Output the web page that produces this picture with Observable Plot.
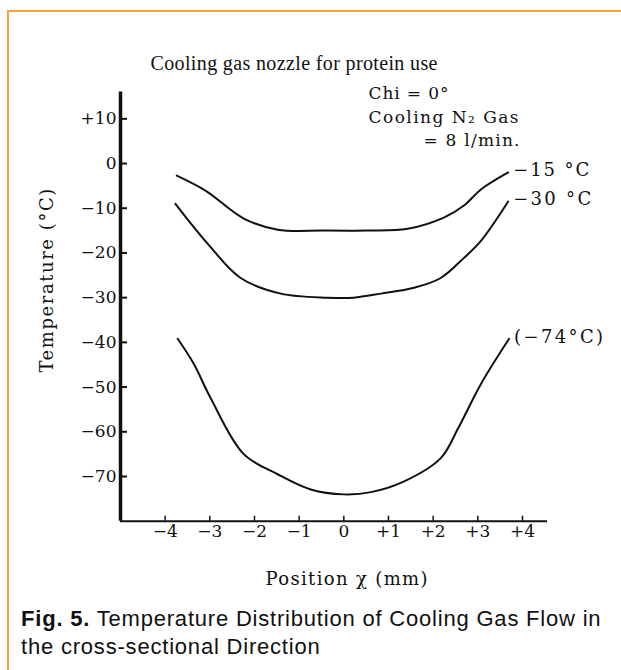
<!DOCTYPE html>
<html><head><meta charset="utf-8">
<script src="https://cdn.jsdelivr.net/npm/d3@7"></script>
<script src="https://cdn.jsdelivr.net/npm/@observablehq/plot@0.6"></script>
<style>
body{margin:0;background:#fff;}
#wrap{position:relative;width:621px;height:670px;overflow:hidden;background:#fff;}
#border{position:absolute;left:7px;top:10px;width:700px;height:700px;border-top:2px solid #F7A13A;border-left:2px solid #F7A13A;}
#chart{position:absolute;left:0;top:0;}
#caption{position:absolute;left:21px;top:605px;font-family:"Liberation Sans",Arial,sans-serif;font-size:22px;letter-spacing:0.8px;line-height:28px;color:#111;white-space:nowrap;}
</style></head>
<body><div id="wrap"><div id="border"></div><div id="chart"></div>
<div id="caption"><b>Fig. 5.</b> Temperature Distribution of Cooling Gas Flow in<br>the cross-sectional Direction</div></div>
<script>
// Series: position (mm) and temperature (°C)
const seriesNames = ["−15 °C", "−30 °C", "(−74°C)"];
const x15 = [-3.74, -3.09, -2.24, -1.48, -0.45, 0.54, 1.43, 2.24, 2.69, 3.07, 3.68];
const t15 = [-2.7, -6.1, -12.3, -14.8, -15.0, -15.0, -14.6, -12.1, -9.4, -5.8, -2.0];
const x30 = [-3.77, -3.05, -2.31, -1.41, -0.36, 0.22, 0.83, 1.57, 2.17, 2.69, 3.07, 3.68];
const t30 = [-9.0, -17.9, -25.6, -29.1, -30.0, -30.0, -29.1, -27.8, -25.6, -21.1, -17.3, -8.5];
const x74 = [-3.72, -3.36, -2.98, -2.24, -1.48, -0.74, 0, 0.61, 1.35, 2.17, 2.56, 3.07, 3.70];
const t74 = [-39.2, -44.8, -52.5, -65.0, -69.5, -72.9, -74.0, -73.5, -71.1, -65.9, -59.2, -49.3, -39.2];

const xTicks = [-4, -3, -2, -1, 0, 1, 2, 3, 4];
const xTickLabels = ["−4", "−3", "−2", "−1", "0", "+1", "+2", "+3", "+4"];
const yTicks = [10, 0, -10, -20, -30, -40, -50, -60, -70];
const yTickLabels = ["+10", "0", "−10", "−20", "−30", "−40", "−50", "−60", "−70"];

const titleText = "Cooling gas nozzle for protein use";
const noteLines = ["Chi = 0°", "Cooling N₂ Gas", "= 8 l/min."];
const xLabel = "Position χ (mm)";
const yLabel = "Temperature (°C)";

const xDomain = [-5, 4.56];
const yDomain = [-80, 16];

const rows = [
  ...x15.map((x, i) => ({x, t: t15[i], s: seriesNames[0]})),
  ...x30.map((x, i) => ({x, t: t30[i], s: seriesNames[1]})),
  ...x74.map((x, i) => ({x, t: t74[i], s: seriesNames[2]}))
];

// styling: fitted text widths (px) to mimic the wide typeset lettering of the scan
const fitWidths = new Map([
  [titleText, 287], [noteLines[0], 80], [noteLines[1], 150], [noteLines[2], 96],
  [xLabel, 162], [yLabel, 184],
  [seriesNames[0], 76], [seriesNames[1], 78], [seriesNames[2], 89]
]);

const serif = '"Liberation Serif","Times New Roman",serif';
const wide = '"DejaVu Serif",serif';
const W = 621, H = 600;

const chart = Plot.plot({
  width: W, height: H,
  marginLeft: 120, marginRight: 74, marginTop: 91.5, marginBottom: H - 520.7,
  x: {domain: xDomain},
  y: {domain: yDomain},
  style: {fontFamily: serif, color: "#111", background: "transparent", overflow: "visible"},
  marks: [
    Plot.ruleX([xDomain[0]], {stroke: "#111", strokeWidth: 3.5}),
    Plot.ruleY([yDomain[0]], {stroke: "#111", strokeWidth: 2}),
    Plot.axisY(yTicks, {tickSize: 7, dx: 7, strokeWidth: 2, tickFormat: () => "", label: null}),
    Plot.axisY(yTicks, {tickSize: 0, tickPadding: 4, fontSize: 17, fontFamily: wide, label: null,
      tickFormat: d => yTickLabels[yTicks.indexOf(d)]}),
    Plot.axisX(xTicks, {anchor: "bottom", tickSize: 5, dy: -5, strokeWidth: 1.5, tickFormat: () => "", label: null}),
    Plot.axisX(xTicks, {anchor: "bottom", tickSize: 0, tickPadding: 4, fontSize: 17, fontFamily: wide, label: null,
      tickFormat: d => xTickLabels[xTicks.indexOf(d)]}),
    Plot.line(rows, {x: "x", y: "t", z: "s", stroke: "#111", strokeWidth: 2, curve: "catmull-rom"}),
    Plot.text(rows, Plot.selectLast({x: "x", y: "t", z: "s", text: "s", textAnchor: "start", lineAnchor: "middle", dx: 5, dy: -2, fontSize: 18, fontFamily: wide})),
    Plot.text([titleText], {frameAnchor: "top-left", textAnchor: "start", lineAnchor: "middle", dx: 30, dy: -28.5, fontSize: 20}),
    Plot.text([noteLines[0]], {frameAnchor: "top-left", textAnchor: "start", lineAnchor: "middle", dx: 248, dy: 1.5, fontSize: 17, fontFamily: wide}),
    Plot.text([noteLines[1]], {frameAnchor: "top-left", textAnchor: "start", lineAnchor: "middle", dx: 248, dy: 25.5, fontSize: 17, fontFamily: wide}),
    Plot.text([noteLines[2]], {frameAnchor: "top-left", textAnchor: "start", lineAnchor: "middle", dx: 303, dy: 48.5, fontSize: 17, fontFamily: wide}),
    Plot.text([yLabel], {frameAnchor: "left", textAnchor: "middle", lineAnchor: "middle", rotate: -90, dx: -73, dy: -26, fontSize: 18, fontFamily: wide}),
    Plot.text([xLabel], {frameAnchor: "bottom", textAnchor: "middle", lineAnchor: "middle", dx: 12.5, dy: 58, fontSize: 18, fontFamily: wide})
  ]
});
d3.select(chart).selectAll("text").each(function() {
  const w = fitWidths.get(this.textContent);
  if (w) this.setAttribute("textLength", w);
});
document.getElementById("chart").appendChild(chart);
</script>
</body></html>
